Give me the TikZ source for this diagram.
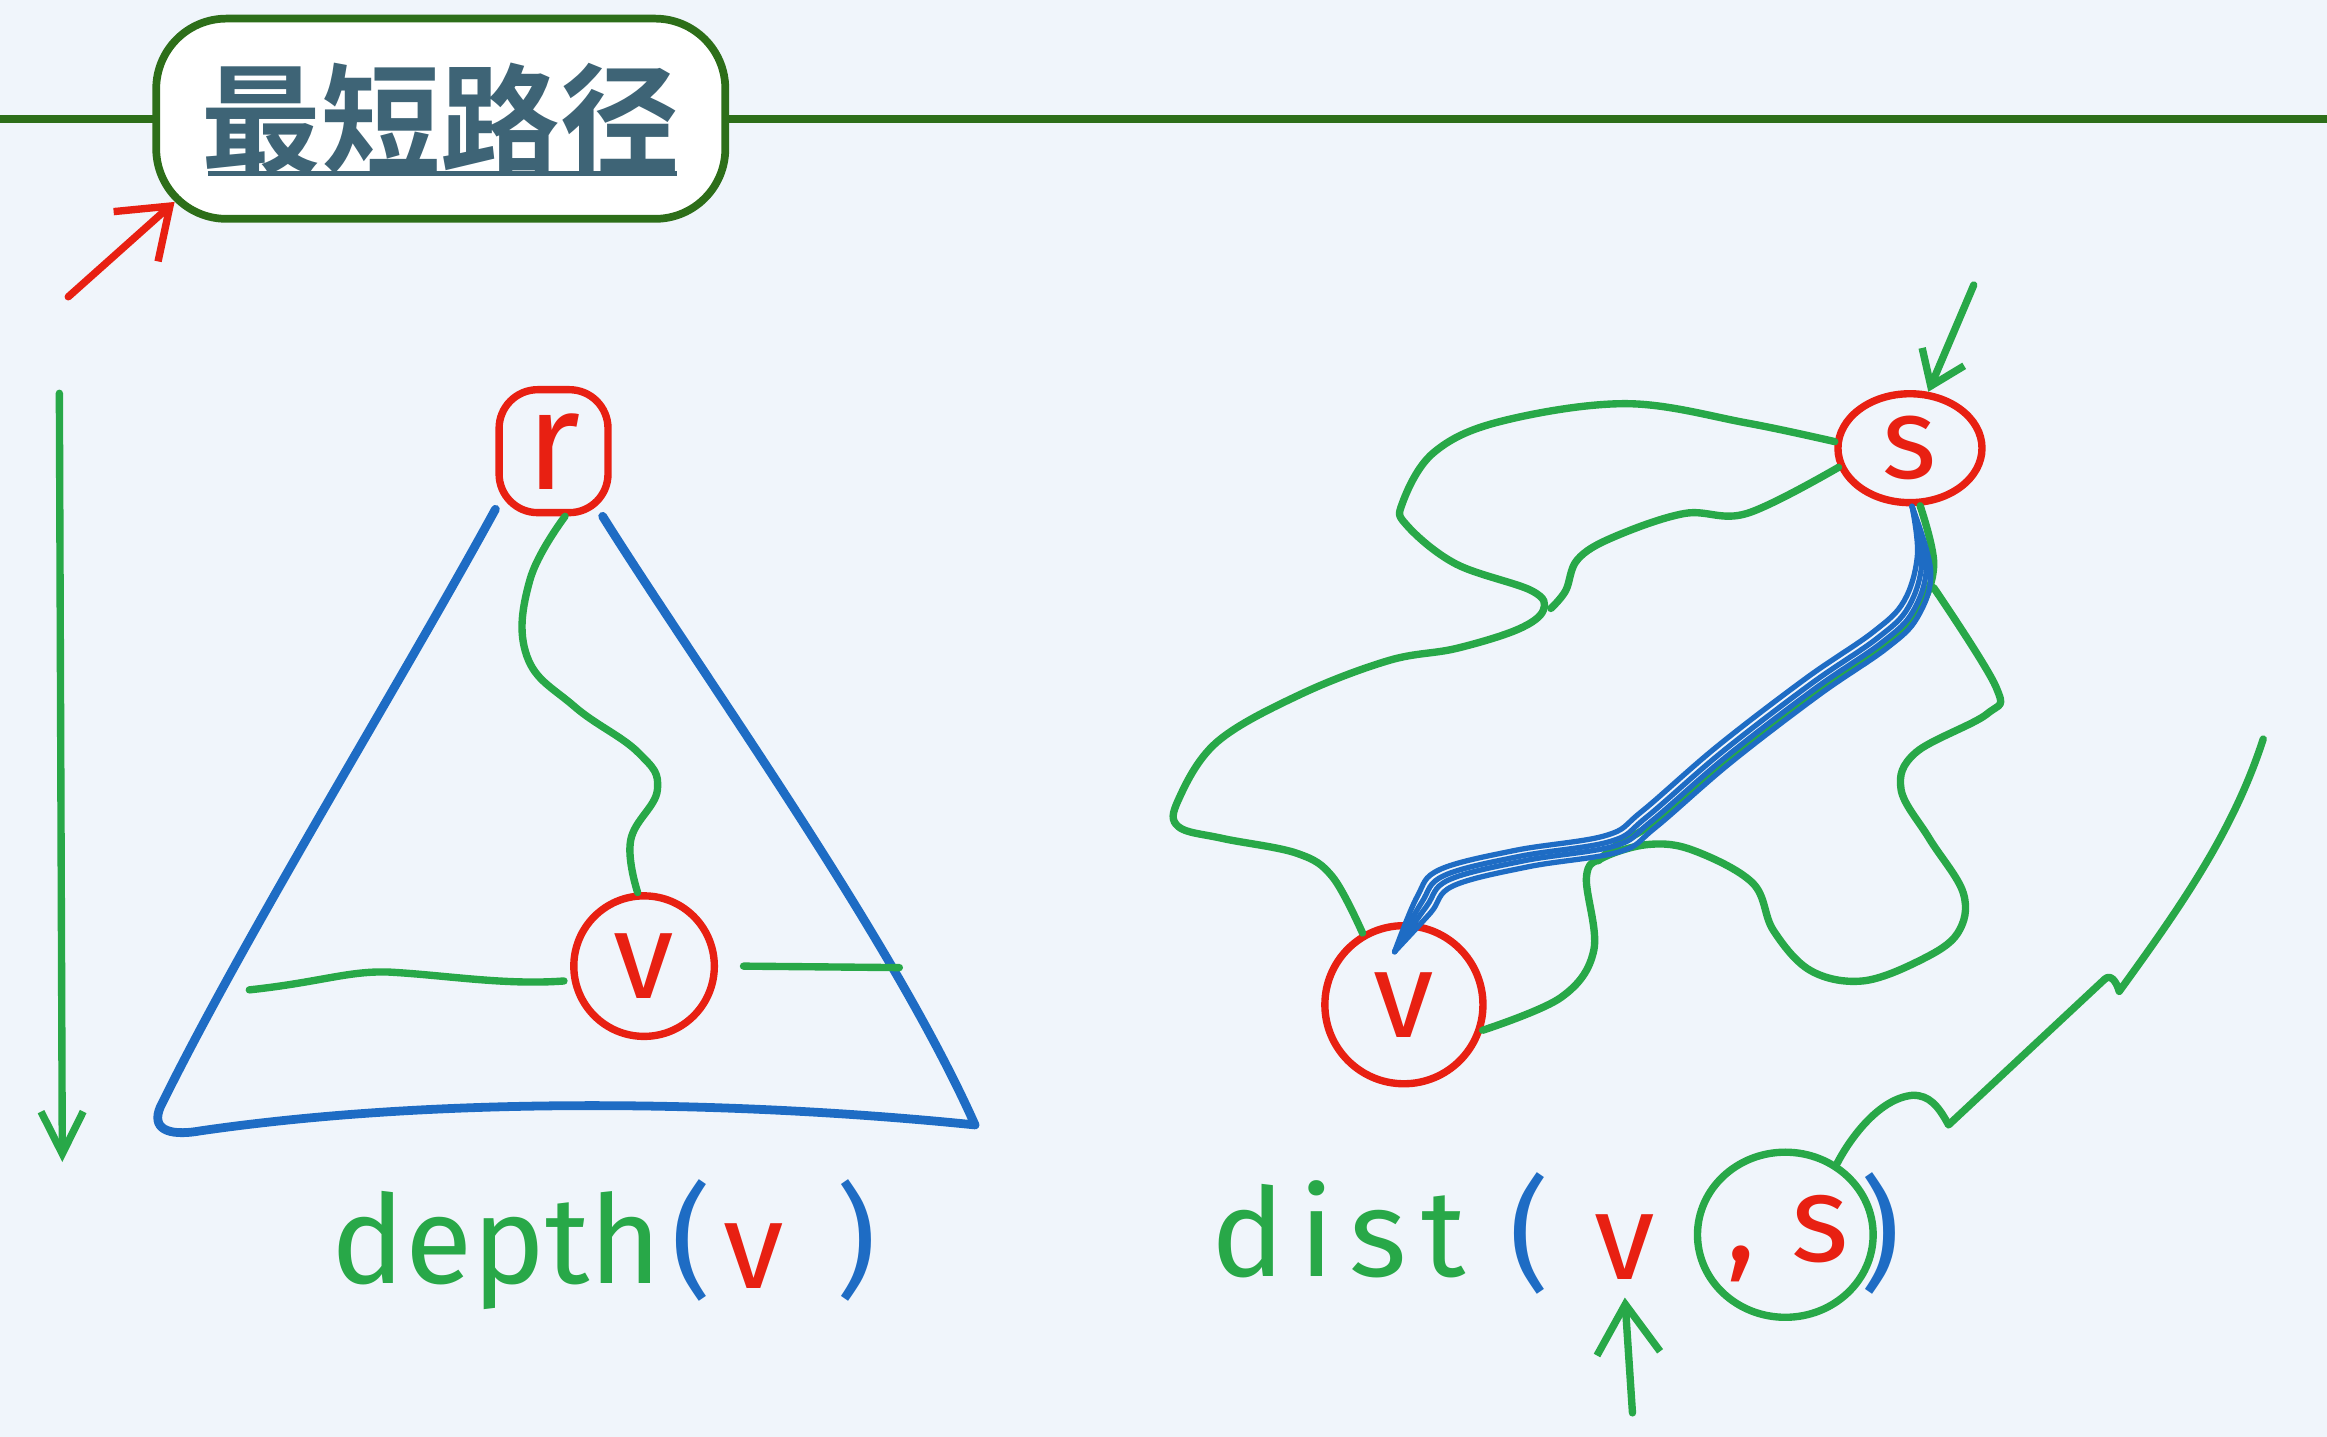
\documentclass[tikz,border=0pt]{standalone}
\usepackage{fontspec}
\setsansfont{Fira Sans}
\newfontfamily\cjkbold{Noto Sans CJK SC Bold}
\usepackage{tikz}
\usetikzlibrary{positioning, shapes.geometric, arrows.meta, calc}
\definecolor{paper}{RGB}{240,245,251}
\definecolor{darkgreen}{RGB}{45,110,25}
\definecolor{slate}{RGB}{62,100,118}
\definecolor{inkred}{RGB}{232,32,18}
\definecolor{inkgreen}{RGB}{40,168,72}
\definecolor{inkblue}{RGB}{30,108,196}
\tikzset{
  pen/.style={line width=2.1pt, line cap=round, line join=round},
  green pen/.style={pen, draw=inkgreen},
  blue pen/.style={pen, draw=inkblue, line width=2.5pt},
  red pen/.style={pen, draw=inkred},
  vertex/.style={circle, draw=inkred, line width=2.1pt, text=inkred, inner sep=0pt,
    font=\sffamily\fontsize{35}{38}\selectfont},
  hand/.style={inner sep=0pt, anchor=base west, font=\sffamily\fontsize{35}{38}\selectfont},
}

\begin{document}
\begin{tikzpicture}[x=0.014841cm, y=-0.014841cm]
  \fill[paper] (0,0) rectangle (1568,968);
  \useasboundingbox (0,0) rectangle (1568,968);

  % title bar
  \draw[darkgreen, line width=2.4pt] (0,80) -- (1568,80);
  \node[draw=darkgreen, line width=2.2pt, fill=white, rounded corners=20pt,
        minimum width=162pt, minimum height=57pt, text=slate]
        (title) at (297,80) {\cjkbold\fontsize{34}{36}\selectfont 最短路径};
  \draw[slate, line width=1.6pt] (140,117) -- (456,117);
  \coordinate (rtail) at (46,200);
  \draw[red pen, -{Straight Barb[length=13pt, width=19pt]}] (rtail) -- ([shift={(15,-14)}]title.south west);

  % depth axis
  \coordinate (dtop) at (40,265);
  \coordinate (dbot) at (42,783);
  \draw[green pen, -{Straight Barb[length=12pt, width=12pt]}] (dtop) -- (dbot);

  % tree
  \node[draw=inkred, line width=2.1pt, rounded corners=11pt, minimum width=31pt, minimum height=35pt,
        inner sep=0pt, text=inkred, font=\sffamily\fontsize{40}{42}\selectfont] (r) at (373,304) {r};
  \node[vertex, minimum size=40pt] (v) at (434,651) {v};
  \draw[blue pen] (r.-135) .. controls (270,460) and (165,630) .. (108,746)
        .. controls (102,760) and (112,766) .. (135,762)
        .. controls (300,738) and (500,742) .. (657,758)
        .. controls (600,630) and (470,450) .. (r.-53);
  \draw[green pen] plot[smooth, tension=0.7] coordinates {(r.-80) (357,391) (355,442) (387,476) (430,507) (443,532) (425,566) (v.95)};
  \draw[green pen] (168,667) .. controls (215,662) and (235,654) .. (262,655) .. controls (300,657) and (340,664) .. (380,661);
  \draw[green pen] (501,651) -- (606,652);

  \node[hand, text=inkgreen] (dlab) at (223,865) {depth};
  \node[hand, text=inkblue] (dopen) at (452,865) {(};
  \node[hand, text=inkred] (dv) at (487,868) {v};
  \node[hand, text=inkblue] (dclose) at (563,865) {)};

  % graph
  \node[ellipse, draw=inkred, line width=2.1pt, minimum width=41pt, minimum height=31pt, inner sep=0pt,
        text=inkred, font=\sffamily\fontsize{33}{36}\selectfont] (s) at (1287,302) {s};
  \node[vertex, minimum size=45pt] (vv) at (946,677) {v};
  \coordinate (stail) at (1330,192);
  \draw[green pen, -{Straight Barb[length=9pt, width=13pt]}] (stail) -- (s.72);

  \draw[green pen] plot[smooth, tension=0.6] coordinates {(s.175) (1177,285) (1096,272) (1011,284) (966,305) (945,339) (948,354) (981,380) (1032,398) (1040,411) (1023,424) (981,437) (936,445) (876,468) (820,500) (794,539) (794,557) (824,565) (874,575) (898,591) (vv.120)};
  \draw[green pen] plot[smooth, tension=0.6] coordinates {(s.195) (1177,346) (1135,346) (1087,362) (1063,377) (1055,398) (1045,410)};
  \draw[green pen] plot[smooth, tension=0.6] coordinates {(vv.-18) (1052,672) (1074,640) (1069,591) (1080,578) (1111,569) (1141,573) (1181,595) (1195,627) (1220,654) (1255,661) (1294,647) (1319,629) (1323,602) (1300,565) (1281,532) (1291,507) (1339,481) (1345,463) (1303,396)};
  \draw[green pen] plot[smooth, tension=0.6] coordinates {(s.-80) (1303,380) (1293,411) (1272,432) (1227,463) (1167,509) (1116,553) (1090,569) (1077,580)};
  \foreach \dx/\dy in {-5/-6, -2/-2, 1/1, 4/5}
    \draw[blue pen, line width=1.5pt, shift={(\dx,\dy)}] plot[smooth, tension=0.6] coordinates {(s.-88) (1297,380) (1288,411) (1267,432) (1222,463) (1162,509) (1111,553) (1087,569) (1026,579) (975,592) (960,610) ($(vv.center)!0.65!(vv.100)$)};

  \node[hand, text=inkgreen] (distlab) at (816,860) {\addfontfeature{LetterSpace=12}dist};
  \node[hand, text=inkblue] (popen) at (1017,860) {(};
  \node[hand, text=inkred] (pv) at (1074,862) {v};
  \node[hand, text=inkred] (pcomma) at (1163,850) {,};
  \node[hand, text=inkred] (ps) at (1207,850) {s};
  \node[hand, text=inkblue] (pclose) at (1253,860) {)};
  \node[ellipse, draw=inkgreen, line width=2.1pt, minimum width=50pt, minimum height=47pt] (ring) at (1203,832) {};
  \coordinate (wend) at (1525,498);
  \draw[green pen] (ring.54) .. controls (1245,770) and (1265,740) .. (1289,738)
        .. controls (1300,738) and (1306,745) .. (1313,758) -- (1418,660)
        .. controls (1422,656) and (1426,661) .. (1428,668)
        .. controls (1470,610) and (1505,560) .. (wend);
  \coordinate (vtail) at (1100,952);
  \draw[green pen, -{Straight Barb[length=14pt, width=18pt]}] (vtail) -- ([yshift=-5pt]pv.south);
\end{tikzpicture}
\end{document}
